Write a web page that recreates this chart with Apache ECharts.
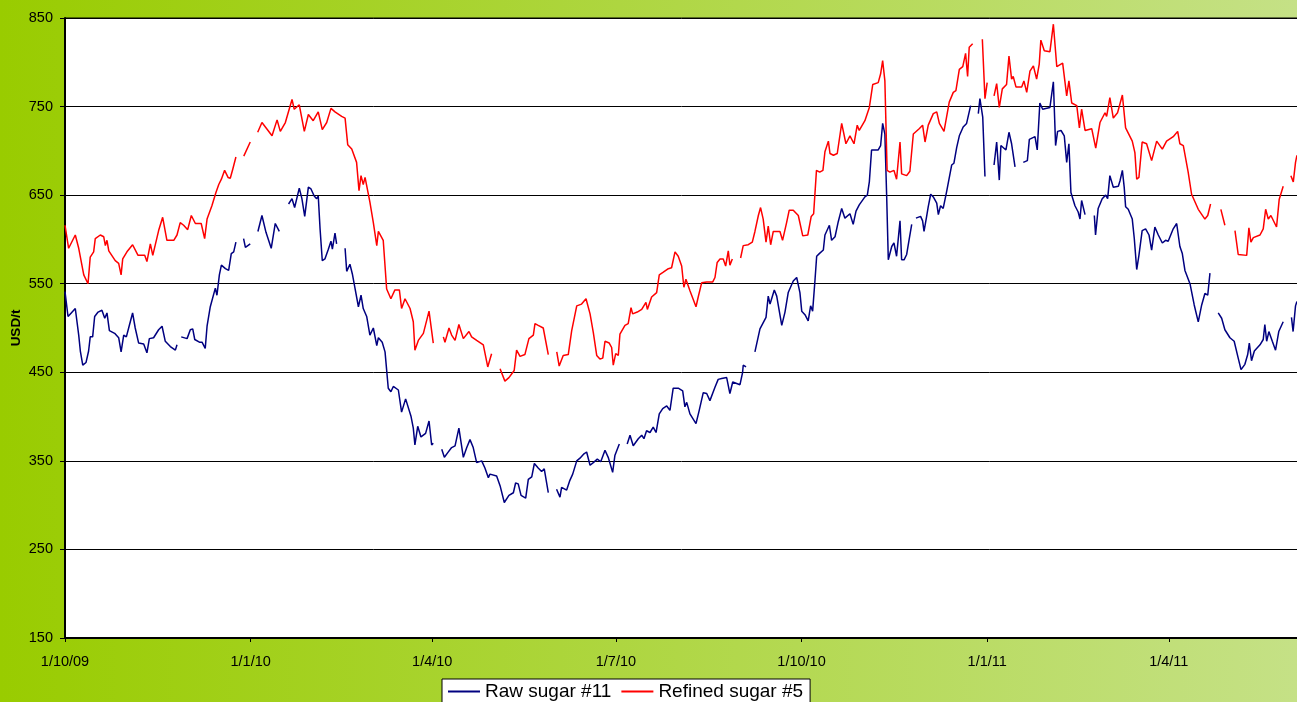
<!DOCTYPE html>
<html>
<head>
<meta charset="utf-8">
<title>Raw vs refined sugar</title>
<script src="https://cdn.jsdelivr.net/npm/echarts@6/dist/echarts.min.js"></script>
<style>
  html, body { margin: 0; padding: 0; }
  #chart { width: 1297px; height: 702px; }
</style>
</head>
<body>
<div id="chart"></div>
<script>
// x values are days counted from 1 Oct 2009; null = no quote (line breaks)
const tickDays = [0, 92, 182, 273, 365, 457, 547];
const tickLabels = ['1/10/09', '1/1/10', '1/4/10', '1/7/10', '1/10/10', '1/1/11', '1/4/11'];

const rawDays = [
  0, 1.5, 3.1, 5.1, 6.8, 7.6, 8.8, 10.4, 11.7, 12.5, 13.7, 14.7, 16.4, 18.3, 19.7, 20.8, 22, 24.6, 26.6, 27.8,
  29.1, 30.4, 32, 33.5, 34.8, 36.5, 39, 40.6, 41.8, 43.9, 46.4, 48.1, 49.7, 52.2, 54.7, 55.5, 56.5,
  57.6, 60.5, 62.1, 63.3, 64.3, 66.6, 67.9, 69.5, 70.4, 72, 74.5, 75.3, 76.5, 77.5, 79.5, 81.1, 82.4, 83.6, 84.7, 86.5,
  88.5, 89.4, 91.8, 93.5,
  95.6, 97.6, 99.6, 102.2, 104.2, 106.2, 108.5,
  110.8, 112.5, 113.8, 116.1, 117.4, 118.8, 120.6, 121.9, 123.5, 124.7, 125.5, 126.4, 127.5, 128.8, 130.5, 131.8, 132.5, 133.8, 134.6, 136.5,
  138.8, 139.6, 141.2, 142.4, 143.7, 145.4, 146.7, 147.8, 149.5, 151.1, 152.8, 154.5, 155.3, 157.2, 158.6, 160.2, 161.5, 162.7, 165.2, 166.8,
  168.8, 171.5, 172.6, 173.4, 174.8, 176.4, 178.7, 180.4, 181.7, 182.5, 184.5,
  186.7, 188, 189.6, 191.6, 193.3, 195.2, 197.4, 199.1, 200.7, 202.3, 204, 206.5, 208.1, 209.8, 210.6, 213.9, 215.6, 217.7, 220, 222.2,
  223.3, 224.6, 226, 228.3, 229.6, 231.3, 232.6, 234.5, 236.2, 237.5, 239.5, 241.5,
  243.6, 245.3, 246.1, 248.6, 250.2, 251.6, 253.6, 255.2, 257.2, 258.5, 260.2, 261.8, 263.8, 265.5, 267.6, 269.2, 271.4, 272.5, 274.7, 276.5,
  278.6, 280, 281.6, 284.1, 285.8, 286.9, 288.2, 289.9, 291.5, 292.9, 294.5, 296.2, 298.2, 299.8, 301.4, 303.9, 306.1, 307.2, 308.1, 309.7,
  312.7, 314.3, 316.3, 318, 319.6, 322.1, 323.7, 325.4, 327.9, 329.5, 330.9, 334.5, 335.8, 336.1, 337.5, 339.5,
  341.9, 342.8, 344.4, 347.4, 348.5, 349.4, 351.5, 352.7, 355.2, 356.8, 358.4, 360.9, 362.6, 364.2, 365.1, 366.7, 368.3, 369.5, 370.5, 371.7,
  372.5, 373.8, 375.8, 376.6, 377.4, 378.8, 379.9, 381.6, 383.2, 384.9, 386.5, 389, 390.6, 392, 393.6, 396.4, 397.6, 398.6, 399.7, 403,
  404.2, 405.2, 406.3, 407.2, 408, 409.7, 410.8, 412.1, 413.8, 414.6, 415.8, 417.1, 418.4, 419.6, 420.6,
  421.7, 424, 425, 425.7, 427, 427.8, 429, 430.3, 432, 432.8, 433.9, 435.2, 436.9, 439.4, 440.5, 441.9, 443.2, 445.1, 446.8, 448.8, 450.5,
  452.6, 453.4, 454.8, 455.9, 458,
  460.4, 461.7, 463, 463.8, 466.3, 467.8, 469.1, 470.8, 473,
  474.9, 476.9, 477.9, 480.7, 481.8, 483.1, 484.5, 488.1, 489.8, 490.9, 491.9, 493.6, 495.2, 496.4, 497.5, 498.5, 500.5, 502.1, 503, 503.8,
  505.5, 508,
  510.1, 510.7, 512, 514, 515.7, 516.7, 517.8, 518.7, 519.5, 522, 522.8, 524, 524.9, 525.6, 526.9, 528.9, 529.9, 531.1, 532.2, 533.8,
  535.5, 537.2, 538.5, 540.1, 541.8, 543.8, 545.4, 546.7, 549.2, 550.9, 552.5, 553.7, 555, 557.5, 559.6, 561.6, 563.3, 564.9, 566.3, 567.4, 569.5,
  571.5, 573.2, 574.8, 577.3, 579.4, 580.1, 581.4, 582.8, 584.7, 586.1, 586.9, 588, 589.4, 592.2, 593.8, 594.6, 595.5, 596.6, 598.3, 599.9,
  601.5, 603.7, 605.8,
  607.8, 608.6, 609.8, 610.5
];
const rawPrice = [
  541, 513, 517, 522, 492, 474, 458, 461, 474, 490, 490, 513, 518, 520, 511, 517, 497, 494, 489, 473,
  492, 490, 504, 517, 500, 483, 482, 472, 488, 489, 498, 502, 485, 479, 475, 481, null,
  490, 488, 498, 499, 487, 484, 484, 477, 502, 524, 545, 537, 560, 571, 567, 565, 584, 586, 597, null,
  601, 591, 595, null,
  609, 627, 608, 590, 618, 609, null,
  640, 646, 636, 658, 646, 626, 659, 657, 649, 646, 649, 612, 576, 578, 589, 598, 589, 607, 595, null,
  590, 564, 572, 561, 545, 524, 537, 522, 513, 492, 500, 480, 489, 484, 473, 432, 428, 434, 430, 405,
  420, 400, 387, 368, 389, 377, 381, 395, 368, 370, null,
  363, 354, 359, 365, 367, 387, 354, 365, 374, 365, 348, 350, 342, 331, 335, 333, 322, 303, 311, 314,
  325, 324, 311, 308, 329, 332, 347, 342, 338, 341, 314, null,
  318, 309, 320, 317, 328, 335, 350, 353, 358, 360, 345, 348, 352, 349, 362, 354, 337, 356, 369, null,
  369, 379, 367, 375, 379, 375, 384, 382, 388, 382, 403, 409, 412, 407, 432, 432, 429, 411, 416, 403,
  392, 407, 427, 426, 418, 433, 442, 443, 444, 426, 439, 436, 450, 458, 456, null,
  473, 472, 499, 512, 536, 527, 543, 536, 503, 518, 540, 553, 557, 540, 519, 515, 508, 525, 519, 555,
  581, 584, 588, 605, 607, 616, 599, 603, 620, 635, 624, 629, 617, 632, 639, 648, 650, 665, 701, 701,
  706, 731, 719, 648, 577, 592, 596, 581, 621, 577, 577, 583, 601, 617, null,
  624, 626, 621, 609, 626, 637, 651, 648, 641, 628, 638, 635, 654, 684, 686, 704, 717, 727, 731, 751, null,
  742, 759, 738, 671, null,
  684, 710, 667, 706, 701, 721, 708, 682, null,
  687, 689, 713, 716, 701, 754, 747, 749, 778, 706, 722, 723, 717, 687, 708, 653, 638, 631, 623, 644,
  628, null,
  627, 605, 635, 646, 650, 646, 672, 674, 659, 660, 666, 678, 659, 637, 634, 623, 601, 566, 582, 610,
  612, 605, 588, 614, 605, 596, 599, 598, 612, 618, 592, 584, 565, 550, 526, 507, 526, 539, 537, 562, null,
  517, 511, 498, 489, 485, 487, 466, 453, 459, 470, 483, 463, 474, 481, 487, 504, 485, 496, 485, 475,
  496, 507, null,
  512, 496, 525, 530
];

const refinedDays = [
  0, 1.8, 5.1, 6.8, 9.3, 11.4, 12.5, 14.2, 15, 17.5, 19.2, 20, 20.8, 21.7, 24.9, 26.6, 27.8, 28.6, 30.7, 33.5,
  36.2, 39.5, 40.6, 42.3, 43.5, 46.4, 48.4, 50.5, 53.9, 55.5, 57.1, 58.8, 60.8, 62.6, 64.6, 67.5, 69.2, 70.4, 72.8, 74.8,
  76.2, 77.5, 79.1, 80.8, 81.9, 83.1, 84.7, 86.6,
  88.6, 91.8, 93.6,
  95.5, 97.6, 99.3, 102.6, 105.1, 106.7, 109.2, 112.5, 113.6, 116.1, 118.6, 120.6, 123, 125.5, 127.5, 129.7, 131.8, 133.8, 137.1, 138.8,
  140.1, 142.1, 144.5, 145.7, 146.7, 147.8, 148.7, 151.1, 152.8, 153.6, 154.5, 155.3, 157.7, 159.4, 161.5, 163.5, 165.7, 166.8, 168.5, 171,
  172.6, 173.4, 175.1, 177.6, 180.4, 182.5, 185,
  187.5, 188.3, 190.3, 191.6, 193.3, 195.2, 197.4, 200.2, 201.5, 204, 207.3, 209.5, 211.4, 213.5,
  215.6, 218, 220, 222.6, 223.8, 225.5, 227.9, 229.9, 232.1, 232.9, 234.5, 237, 239.5, 241.6,
  243.7, 244.9, 246.9, 249.4, 251.1, 253.6, 256, 258.2, 260.2, 261.8, 263.5, 265.1, 266.5, 267.6, 269.7, 270.9, 271.7, 272.9, 274.2, 275,
  277.5, 279.1, 280.5, 281.3, 283.6, 285.8, 287.9, 288.6, 290.7, 293.2, 294.5, 296.5, 299, 300.6, 302.3, 303.9, 305.6, 306.7, 307.7, 309.7,
  312.7, 313.8, 315.5, 318, 321, 322.1, 323.2, 324.6, 326.2, 327.4, 328.7, 329.5, 330.7, 332.8,
  334.8, 336.1, 338.6, 340.6, 341.9, 343.6, 344.7, 346, 347.4, 348.5, 349.7, 351, 354.3, 355.6, 357.6, 358.9, 360.9, 363.4, 365.6, 368.1,
  369.8, 371, 372.4, 374, 375.6, 376.6, 378.3, 379.1, 380.8, 382.7, 384.9, 387, 389, 391, 392.6, 393.6, 396.4, 398.6, 400.3, 403,
  404.2, 405.2, 406.3, 407.4, 408.8, 410.8, 412.1, 413.8, 414.6, 417.1, 418.7, 420.4, 423.3, 425, 426.2, 427.8, 430.3, 432, 433.3, 435.6,
  438.2, 440.2, 441.5, 443.2, 444.9, 446.3, 447.3, 448.1, 449.8, 452,
  454.6, 455.9, 457, 458.7,
  460.4, 461.7, 463, 464.5, 466.6, 467.8, 469.1, 469.9, 471.3, 474.1, 475.2, 476.6, 478.2, 479.9, 481.5, 482.8, 483.6, 485.3, 488.1, 489.8,
  491.5, 494.4, 496.4, 497.5, 498.9, 501.4, 502.7, 503.8, 505.5, 508.8, 510.8, 512.9, 515.4, 516.2, 517.8, 519.5, 521.6, 524, 525.6, 528.9,
  530.2, 531.1, 532.2, 533.8, 536, 538.5, 541, 543.8, 545.9, 549.2, 551.4, 552.5, 554.2, 556.6, 558.3, 561.6, 564.9, 566.3, 567.7, 570,
  572.8, 574.8, 577,
  579.8, 581.4, 585.6, 586.7, 587.7, 588.9, 592.2, 593.8, 595, 596.3, 597.6, 600.4, 601.7, 603.7, 605.5,
  607.5, 608.7, 609.8, 610.5
];
const refinedPrice = [
  616, 590, 605, 590, 560, 550, 580, 586, 601, 605, 603, 593, 599, 587, 576, 573, 560, 578, 586, 594,
  582, 582, 575, 595, 582, 610, 625, 599, 599, 605, 619, 616, 611, 627, 618, 618, 601, 623, 638, 653,
  662, 668, 678, 670, 669, 679, 693, null,
  694, 710, null,
  721, 732, 727, 717, 735, 722, 732, 758, 747, 752, 722, 741, 734, 744, 724, 732, 748, 744, 739, 737,
  707, 702, 687, 655, 672, 662, 670, 642, 619, 619, 593, 609, 599, 544, 533, 543, 543, 522, 533, 522,
  507, 475, 486, 494, 519, 483, null,
  490, 484, 500, 492, 486, 504, 488, 496, 490, 486, 481, 456, 471, null,
  454, 440, 444, 452, 475, 468, 470, 488, 492, 505, 503, 500, 470, null,
  473, 457, 469, 470, 497, 525, 527, 533, 516, 495, 469, 465, 466, 485, 483, 478, 458, 471, 469, 493,
  503, 505, 523, 516, 518, 521, 529, 521, 535, 540, 560, 563, 567, 568, 586, 581, 570, 546, 555, 542,
  524, 535, 551, 552, 552, 557, 574, 578, 578, 570, 587, 571, 578, null,
  579, 593, 594, 597, 609, 627, 636, 623, 597, 615, 594, 609, 609, 599, 619, 633, 633, 627, 604, 605,
  626, 629, 678, 676, 678, 699, 711, 697, 695, 697, 731, 708, 717, 708, 729, 723, 734, 749, 775, 777,
  787, 802, 779, 678, 676, 678, 668, 710, 674, 672, 677, 719, 725, 729, 710, 729, 742, 744, 731, 722,
  755, 766, 768, 792, 795, 810, 784, 817, 821, null,
  826, 759, 777, null,
  762, 776, 749, 770, 775, 807, 781, 784, 772, 772, 779, 766, 790, 796, 781, 798, 825, 813, 812, 843,
  795, 799, 762, 779, 754, 751, 726, 747, 723, 725, 703, 732, 743, 739, 760, 737, 743, 763, 726, 711,
  698, 668, 670, 710, 708, 689, 711, 702, 711, 716, 722, 708, 706, 676, 651, 634, 623, 627, 640, null,
  634, 616, null,
  610, 583, 582, 613, 597, 602, 605, 612, 634, 623, 627, 614, 645, 660, null,
  672, 665, 687, 695
];

const pairs = (days, vals) => days.map((d, i) => [d, vals[i] == null ? '-' : vals[i]]);

const chart = echarts.init(document.getElementById('chart'), null, { renderer: 'canvas' });
const FONT = 'Liberation Sans, Arial, sans-serif';

chart.setOption({
  animation: false,
  backgroundColor: {
    type: 'linear', x: 0, y: 0, x2: 1, y2: 0,
    colorStops: [
      { offset: 0, color: '#99cc00' },
      { offset: 1, color: '#c5e186' }
    ]
  },
  textStyle: { fontFamily: FONT },
  // plot runs past the right edge of the window, so its right border is not seen
  grid: {
    left: 65, width: 1240, top: 18, bottom: 64,
    outerBoundsMode: 'none',
    containLabel: false,
    show: true,
    backgroundColor: '#ffffff',
    borderColor: '#000000',
    borderWidth: 1
  },
  legend: {
    left: 442, top: 679,
    padding: [3, 7, 3, 6],
    itemGap: 10,
    itemWidth: 32, itemHeight: 2,
    icon: 'rect',
    backgroundColor: '#ffffff',
    borderColor: '#000000',
    borderWidth: 1,
    borderRadius: 0,
    textStyle: { fontSize: 19, color: '#000', fontFamily: FONT },
    data: ['Raw sugar #11', 'Refined sugar #5']
  },
  xAxis: {
    type: 'value',
    min: 0, max: 614.5,
    axisLine: { show: true, lineStyle: { color: '#000', width: 2 } },
    axisTick: { show: true, length: 4, customValues: tickDays, lineStyle: { color: '#000' } },
    axisLabel: {
      customValues: tickDays,
      formatter: (v) => tickLabels[tickDays.indexOf(v)],
      fontSize: 14.5, color: '#000', margin: 16, fontFamily: FONT
    },
    splitLine: { show: false }
  },
  yAxis: {
    type: 'value',
    min: 150, max: 850, interval: 100,
    name: 'USD/t',
    nameLocation: 'middle',
    nameRotate: 90,
    nameGap: 42,
    nameMoveOverlap: false,
    nameTextStyle: { fontWeight: 'bold', fontSize: 13.5, color: '#000', fontFamily: FONT },
    axisLine: { show: true, lineStyle: { color: '#000', width: 2 } },
    axisTick: { show: true, length: 5, lineStyle: { color: '#000' } },
    axisLabel: { fontSize: 14.5, color: '#000', margin: 12, fontFamily: FONT },
    splitLine: { show: true, lineStyle: { color: '#000', width: 1 } }
  },
  series: [
    {
      name: 'Raw sugar #11',
      type: 'line',
      data: pairs(rawDays, rawPrice),
      showSymbol: false, symbol: 'none',
      connectNulls: false,
      color: '#000080',
      lineStyle: { color: '#000080', width: 1.5 },
      z: 3
    },
    {
      name: 'Refined sugar #5',
      type: 'line',
      data: pairs(refinedDays, refinedPrice),
      showSymbol: false, symbol: 'none',
      connectNulls: false,
      color: '#ff0000',
      lineStyle: { color: '#ff0000', width: 1.5 },
      z: 4
    }
  ]
});
</script>
</body>
</html>
